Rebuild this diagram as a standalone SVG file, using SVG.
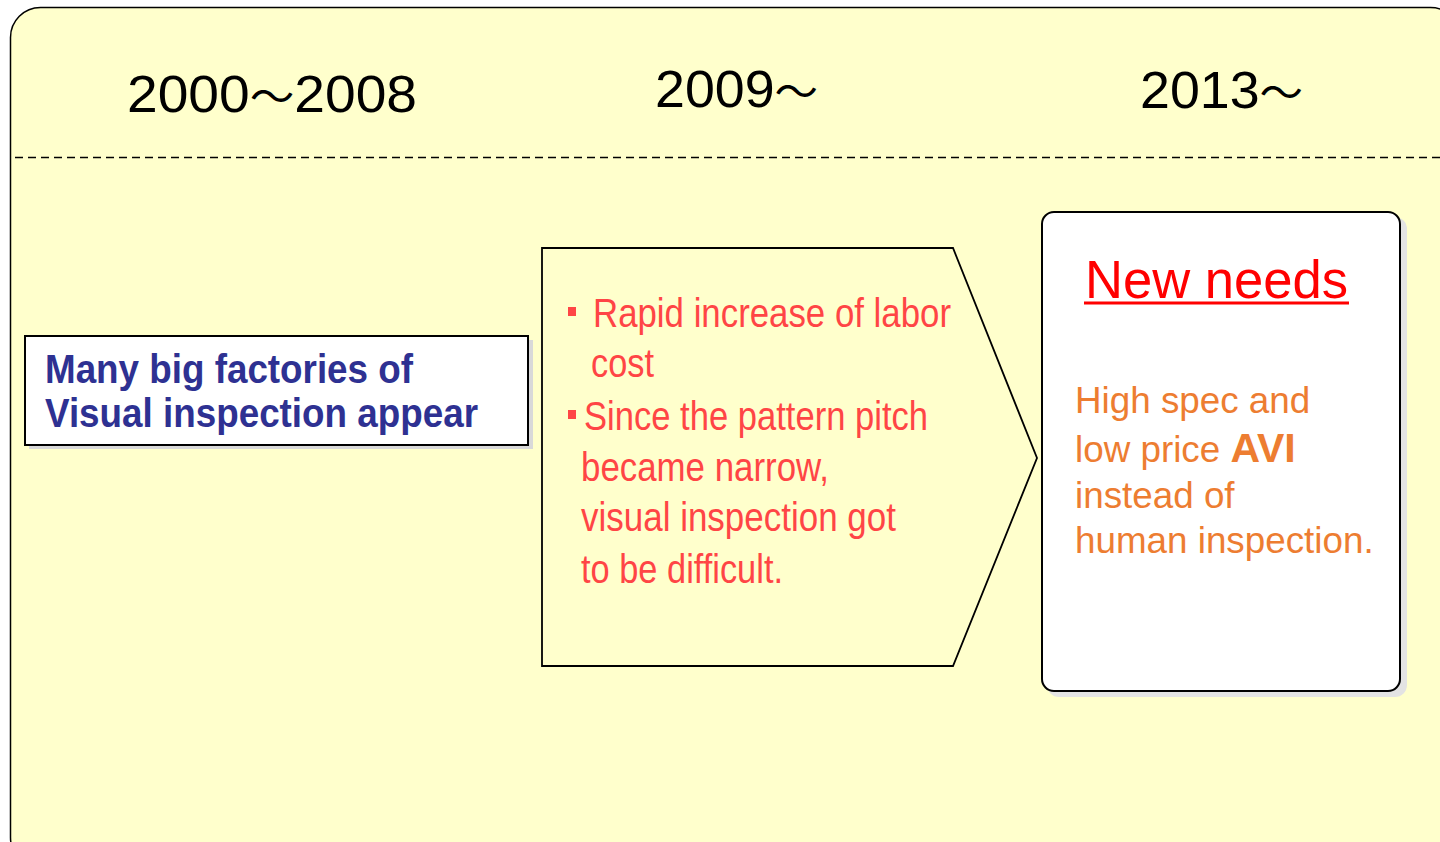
<svg xmlns="http://www.w3.org/2000/svg" width="1440" height="842" viewBox="0 0 1440 842">
  <style>
    .year { font-family: "Liberation Sans", "Noto Sans CJK JP", sans-serif; font-size: 52px; fill: #000; }
    .tilde { font-family: "Noto Sans CJK JP", "Liberation Sans", sans-serif; font-size: 42px; }
    .navy { font-family: "Liberation Sans", sans-serif; font-size: 40px; font-weight: bold; fill: #2E3192; }
    .red { font-family: "Liberation Sans", sans-serif; font-size: 40px; fill: #FF4545; }
    .orange { font-family: "Liberation Sans", sans-serif; font-size: 36.8px; fill: #ED7D31; }
    .needs { font-family: "Liberation Sans", sans-serif; font-size: 53px; fill: #FF0000; }
  </style>
  <rect width="1440" height="842" fill="#FFFFFF"/>
  <g id="background">
    <rect x="10.5" y="7.5" width="1450" height="860" rx="30" ry="30" fill="#FFFFCC" stroke="#000" stroke-width="1.5"/>
    <line x1="15" y1="157.5" x2="1440" y2="157.5" stroke="#000" stroke-width="1.5" stroke-dasharray="8 5"/>
  </g>
  <g id="years">
    <text class="year" x="127" y="112" textLength="290" lengthAdjust="spacingAndGlyphs">2000<tspan class="tilde">～</tspan>2008</text>
    <text class="year" x="655" y="107" textLength="163" lengthAdjust="spacingAndGlyphs">2009<tspan class="tilde">～</tspan></text>
    <text class="year" x="1140" y="108" textLength="163" lengthAdjust="spacingAndGlyphs">2013<tspan class="tilde">～</tspan></text>
  </g>
  <g id="node-factories">
    <rect x="29" y="340" width="504" height="109" fill="#D9D9D9"/>
    <rect x="25" y="336" width="503" height="109" fill="#FFFFFF" stroke="#000" stroke-width="2"/>
    <text class="navy" x="45" y="383" textLength="368" lengthAdjust="spacingAndGlyphs">Many big factories of</text>
    <text class="navy" x="45" y="427" textLength="433" lengthAdjust="spacingAndGlyphs">Visual inspection appear</text>
  </g>
  <g id="node-2009">
    <polygon points="542,248 953,248 1037,458 953,666 542,666" fill="#FFFFCC" stroke="#000" stroke-width="1.8"/>
    <rect x="568" y="307" width="8" height="9" fill="#FF4545"/>
    <text class="red" x="593" y="327" textLength="358" lengthAdjust="spacingAndGlyphs">Rapid increase of labor</text>
    <text class="red" x="591" y="377" textLength="63" lengthAdjust="spacingAndGlyphs">cost</text>
    <rect x="568" y="410" width="8" height="9" fill="#FF4545"/>
    <text class="red" x="584" y="430" textLength="344" lengthAdjust="spacingAndGlyphs">Since the pattern pitch</text>
    <text class="red" x="581" y="481" textLength="248" lengthAdjust="spacingAndGlyphs">became narrow,</text>
    <text class="red" x="581" y="531" textLength="315" lengthAdjust="spacingAndGlyphs">visual inspection got</text>
    <text class="red" x="581" y="583" textLength="202" lengthAdjust="spacingAndGlyphs">to be difficult.</text>
  </g>
  <g id="node-2013">
    <rect x="1047" y="217" width="360" height="480" rx="12" ry="12" fill="#E3E3E3"/>
    <rect x="1042" y="212" width="358" height="479" rx="12" ry="12" fill="#FFFFFF" stroke="#000" stroke-width="2"/>
    <text class="needs" x="1085" y="298" textLength="263" lengthAdjust="spacingAndGlyphs">New needs</text>
    <line x1="1084" y1="303" x2="1349" y2="303" stroke="#FF0000" stroke-width="3"/>
    <text class="orange" x="1075" y="413">High spec and</text>
    <text class="orange" x="1075" y="462">low price <tspan font-weight="bold" font-size="41px">AVI</tspan></text>
    <text class="orange" x="1075" y="508">instead of</text>
    <text class="orange" x="1075" y="553">human inspection.</text>
  </g>
</svg>
